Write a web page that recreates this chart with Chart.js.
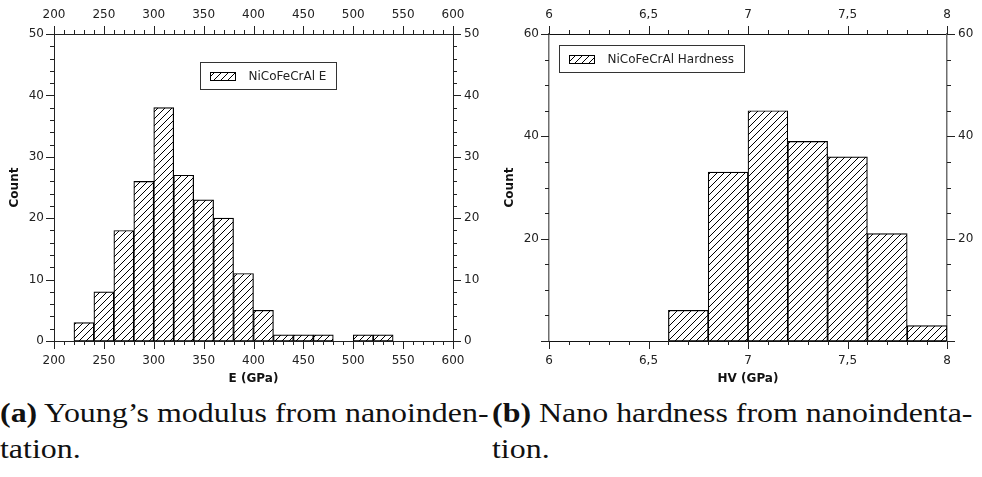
<!DOCTYPE html>
<html>
<head>
<meta charset="utf-8">
<script src="https://cdn.jsdelivr.net/npm/chart.js@4.4.1/dist/chart.umd.min.js"></script>
<style>
  body { margin: 0; background: #fff; width: 982px; height: 477px; overflow: hidden; position: relative; }
  .box { position: absolute; top: 0; width: 491px; height: 390px; }
  .cap { position: absolute; font-family: "Liberation Serif", serif; font-size: 28px; line-height: 36px; white-space: nowrap; color: #111; transform: scaleX(1.14); transform-origin: 0 0; }
</style>
</head>
<body>
<div class="box" style="left:0"><canvas id="eCanvas" width="491" height="390"></canvas></div>
<div class="box" style="left:491px"><canvas id="hvCanvas" width="491" height="390"></canvas></div>
<div class="cap" style="left:0; top:395px"><b>(a)</b> Young’s modulus from nanoinden-<br>tation.</div>
<div class="cap" style="left:492px; top:395px"><b>(b)</b> Nano hardness from nanoindenta-<br>tion.</div>
<script>
// bin centres and counts
const eBins = [230, 250, 270, 290, 310, 330, 350, 370, 390, 410, 430, 450, 470, 490, 510, 530];
const eCounts = [3, 8, 18, 26, 38, 27, 23, 20, 11, 5, 1, 1, 1, 0, 1, 1];
const hvBins = [6.1, 6.3, 6.5, 6.7, 6.9, 7.1, 7.3, 7.5, 7.7, 7.9];
const hvCounts = [0, 0, 0, 6, 33, 45, 39, 36, 21, 3];

const eTicks = [200, 250, 300, 350, 400, 450, 500, 550, 600];
const eCountTicks = [0, 10, 20, 30, 40, 50];
const hvTicks = [6, 6.5, 7, 7.5, 8];
const hvCountTicks = [20, 40, 60];

const tickFont = { family: "DejaVu Sans", size: 12 };
const titleFont = { family: "DejaVu Sans", size: 12, weight: "bold" };

function hatch() {
  const c = document.createElement("canvas");
  c.width = 7;
  c.height = 7;
  const ctx = c.getContext("2d");
  ctx.fillStyle = "#fff";
  ctx.fillRect(0, 0, 7, 7);
  ctx.strokeStyle = "#000";
  ctx.lineWidth = 1;
  ctx.beginPath();
  ctx.moveTo(-1, 8); ctx.lineTo(8, -1);
  ctx.moveTo(-1, 1); ctx.lineTo(1, -1);
  ctx.moveTo(6, 8); ctx.lineTo(8, 6);
  ctx.stroke();
  return ctx.createPattern(c, "repeat");
}

function fixSize(size) {
  return (scale) => {
    if (scale.isHorizontal()) scale.height = size;
    else scale.width = size;
  };
}

function setTicks(values) {
  return (scale) => {
    scale.ticks = values.map((v) => ({ value: v }));
  };
}

// minor / major tick marks, pointing outward on every side
const tickMarks = {
  id: "tickMarks",
  afterDraw(chart, args, opts) {
    const ctx = chart.ctx;
    ctx.save();
    ctx.strokeStyle = opts.color;
    ctx.lineWidth = 1;
    Object.values(chart.scales).forEach((scale) => {
      const conf = opts[scale.id];
      if (!conf) return;
      const [minor, major] = conf;
      for (let i = 0; ; i++) {
        const v = scale.min + i * minor;
        if (v > scale.max + 1e-9) break;
        const isMajor = Math.abs(v / major - Math.round(v / major)) < 1e-6;
        const len = isMajor ? 8 : 4;
        const p = Math.round(scale.getPixelForValue(v)) + 0.5;
        ctx.beginPath();
        if (scale.position === "left") {
          ctx.moveTo(scale.right, p); ctx.lineTo(scale.right - len, p);
        } else if (scale.position === "right") {
          ctx.moveTo(scale.left, p); ctx.lineTo(scale.left + len, p);
        } else if (scale.position === "bottom") {
          ctx.moveTo(p, scale.top); ctx.lineTo(p, scale.top + len);
        } else {
          ctx.moveTo(p, scale.bottom); ctx.lineTo(p, scale.bottom - len);
        }
        ctx.stroke();
      }
    });
    ctx.restore();
  },
};

// framed legend placed inside the plot area
const boxLegend = {
  id: "boxLegend",
  afterDraw(chart, args, opts) {
    const ctx = chart.ctx;
    const a = chart.chartArea;
    const ds = chart.data.datasets[0];
    ctx.save();
    ctx.font = "12px 'DejaVu Sans'";
    const tw = ctx.measureText(ds.label).width;
    const x = Math.round(a.left + opts.x * a.width) + 0.5;
    const y = Math.round(a.top + opts.y * a.height) + 0.5;
    const w = Math.round(10 + 25 + 13 + tw + 10);
    const h = 27;
    ctx.fillStyle = "#fff";
    ctx.fillRect(x, y, w, h);
    ctx.strokeStyle = "#333";
    ctx.lineWidth = 1;
    ctx.strokeRect(x, y, w, h);
    ctx.fillStyle = ds.backgroundColor;
    ctx.fillRect(x + 10, y + 10, 25, 8);
    ctx.strokeStyle = "#000";
    ctx.strokeRect(x + 10, y + 10, 25, 8);
    ctx.fillStyle = "#222";
    ctx.textBaseline = "middle";
    ctx.fillText(ds.label, x + 48, y + h / 2 + 0.5);
    ctx.restore();
  },
};

const pattern = hatch();

const eChart = new Chart(document.getElementById("eCanvas"), {
  type: "bar",
  data: {
    datasets: [
      {
        label: "NiCoFeCrAl E",
        data: eBins.map((b, i) => ({ x: b, y: eCounts[i] })),
        backgroundColor: pattern,
        borderColor: "#000",
        borderWidth: 1.2,
        borderSkipped: false,
        barPercentage: 1,
        categoryPercentage: 1,
        clip: false,
      },
    ],
  },
  options: {
    responsive: false,
    animation: false,
    layout: { padding: 0 },
    scales: {
      x: {
        type: "linear", position: "bottom", min: 200, max: 600, offset: false,
        afterFit: fixSize(49), afterBuildTicks: setTicks(eTicks),
        grid: { display: false, drawTicks: false },
        border: { color: "#222", width: 1 },
        ticks: { font: tickFont, color: "#222", padding: 13, maxRotation: 0, autoSkip: false },
        title: { display: true, text: "E (GPa)", font: titleFont, color: "#111", padding: { top: 0, bottom: 4 } },
      },
      x2: {
        type: "linear", position: "top", min: 200, max: 600, offset: false,
        afterFit: fixSize(34), afterBuildTicks: setTicks(eTicks),
        grid: { display: false, drawTicks: false },
        border: { color: "#222", width: 1 },
        ticks: { font: tickFont, color: "#222", padding: 12, maxRotation: 0, autoSkip: false },
      },
      y: {
        type: "linear", position: "left", min: 0, max: 50,
        afterFit: fixSize(54), afterBuildTicks: setTicks(eCountTicks),
        grid: { display: false, drawTicks: false },
        border: { color: "#222", width: 1 },
        ticks: { font: tickFont, color: "#222", padding: 10 },
        title: { display: true, text: "Count", font: titleFont, color: "#111", padding: { top: 8, bottom: 0 } },
      },
      y2: {
        type: "linear", position: "right", min: 0, max: 50,
        afterFit: fixSize(38), afterBuildTicks: setTicks(eCountTicks),
        grid: { display: false, drawTicks: false },
        border: { color: "#222", width: 1 },
        ticks: { font: tickFont, color: "#222", padding: 11 },
      },
    },
    plugins: {
      legend: { display: false },
      tooltip: { enabled: false },
      tickMarks: { color: "#222", x: [10, 50], x2: [10, 50], y: [2, 10], y2: [2, 10] },
      boxLegend: { x: 0.367, y: 0.091 },
    },
  },
  plugins: [tickMarks, boxLegend],
});

const hvChart = new Chart(document.getElementById("hvCanvas"), {
  type: "bar",
  data: {
    datasets: [
      {
        label: "NiCoFeCrAl Hardness",
        data: hvBins.map((b, i) => ({ x: b, y: hvCounts[i] })),
        backgroundColor: pattern,
        borderColor: "#000",
        borderWidth: 1.2,
        borderSkipped: false,
        barPercentage: 1,
        categoryPercentage: 1,
        clip: false,
      },
    ],
  },
  options: {
    responsive: false,
    animation: false,
    layout: { padding: 0 },
    scales: {
      x: {
        type: "linear", position: "bottom", min: 6, max: 8, offset: false,
        afterFit: fixSize(49), afterBuildTicks: setTicks(hvTicks),
        grid: { display: false, drawTicks: false },
        border: { color: "#111", width: 1 },
        ticks: {
          font: tickFont, color: "#222", padding: 13, maxRotation: 0, autoSkip: false,
          callback: (v) => String(v).replace(".", ","),
        },
        title: { display: true, text: "HV (GPa)", font: titleFont, color: "#111", padding: { top: 0, bottom: 4 } },
      },
      x2: {
        type: "linear", position: "top", min: 6, max: 8, offset: false,
        afterFit: fixSize(34), afterBuildTicks: setTicks(hvTicks),
        grid: { display: false, drawTicks: false },
        border: { color: "#111", width: 1 },
        ticks: {
          font: tickFont, color: "#222", padding: 12, maxRotation: 0, autoSkip: false,
          callback: (v) => String(v).replace(".", ","),
        },
      },
      y: {
        type: "linear", position: "left", min: 0, max: 60,
        afterFit: fixSize(58), afterBuildTicks: setTicks(hvCountTicks),
        grid: { display: false, drawTicks: false },
        border: { color: "#6e6e6e", width: 1.5 },
        ticks: { font: tickFont, color: "#222", padding: 10 },
        title: { display: true, text: "Count", font: titleFont, color: "#111", padding: { top: 12, bottom: 0 } },
      },
      y2: {
        type: "linear", position: "right", min: 0, max: 60,
        afterFit: fixSize(35), afterBuildTicks: setTicks(hvCountTicks),
        grid: { display: false, drawTicks: false },
        border: { color: "#6e6e6e", width: 1.5 },
        ticks: { font: tickFont, color: "#222", padding: 11 },
      },
    },
    plugins: {
      legend: { display: false },
      tooltip: { enabled: false },
      tickMarks: { color: "#222", x: [0.1, 0.5], x2: [0.1, 0.5], y: [5, 20], y2: [5, 20] },
      boxLegend: { x: 0.025, y: 0.036 },
    },
  },
  plugins: [tickMarks, boxLegend],
});
</script>
</body>
</html>
